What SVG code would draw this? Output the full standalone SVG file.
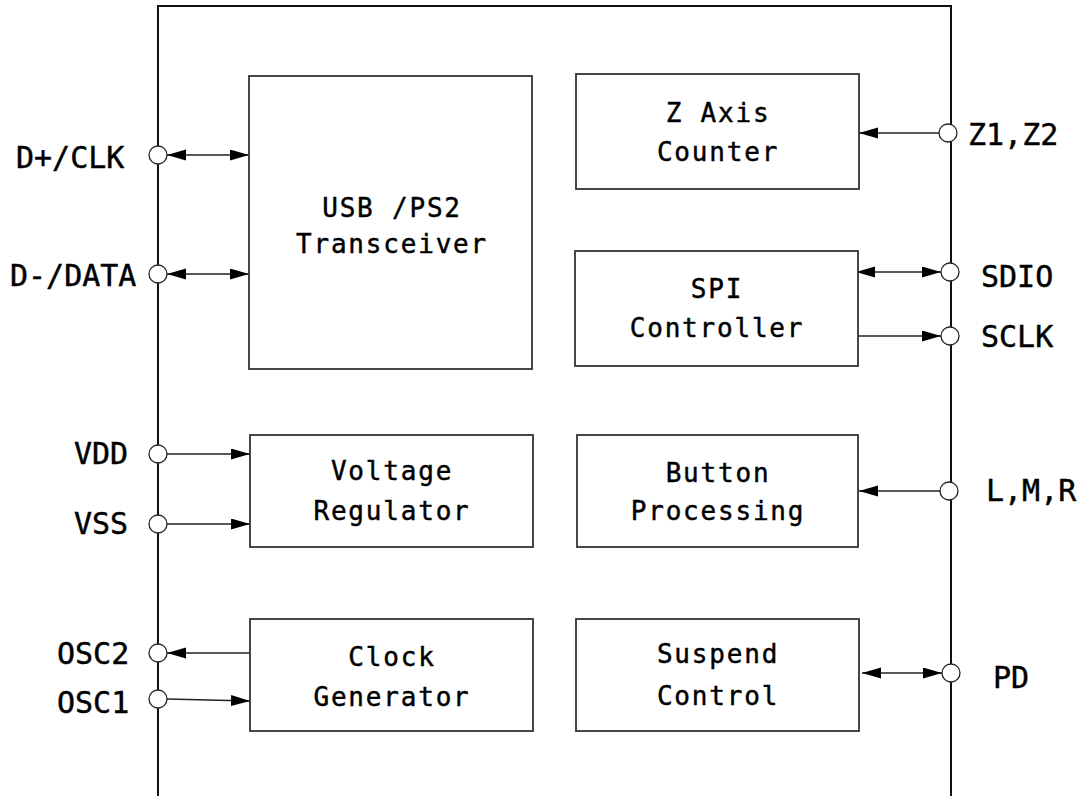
<svg xmlns="http://www.w3.org/2000/svg" width="1080" height="796" viewBox="0 0 1080 796">
<style>
.box{fill:#fff;stroke:#333;stroke-width:1.8}
.blk{font-family:"DejaVu Sans Mono","Liberation Mono",monospace;font-size:26px;letter-spacing:1.8px;text-anchor:middle;fill:#000;stroke:#000;stroke-width:0.45}
.pin{font-family:"DejaVu Sans Mono","Liberation Mono",monospace;font-size:30px;fill:#000;stroke:#000;stroke-width:0.45}
.w{fill:none;stroke:#222;stroke-width:1.3}
.pc{fill:#fff;stroke:#222;stroke-width:1.3}
</style>
<defs>
<marker id="ah" markerUnits="userSpaceOnUse" markerWidth="20" markerHeight="12" refX="19" refY="5.5" orient="auto-start-reverse" viewBox="0 0 20 12">
<path d="M0,0 L19,5.5 L0,11 z" fill="#000"/>
</marker>
</defs>
<rect width="1080" height="796" fill="#fff"/>
<path id="chip" d="M158,796 V6 H951 V796" fill="none" stroke="#111" stroke-width="2"/>

<g id="connectors">
<line class="w" x1="167" y1="155" x2="249" y2="155" marker-start="url(#ah)" marker-end="url(#ah)"/>
<line class="w" x1="167" y1="274" x2="249" y2="274" marker-start="url(#ah)" marker-end="url(#ah)"/>
<line class="w" x1="167" y1="454" x2="250" y2="454" marker-end="url(#ah)"/>
<line class="w" x1="167" y1="524" x2="250" y2="524" marker-end="url(#ah)"/>
<line class="w" x1="250" y1="653" x2="167" y2="653" marker-end="url(#ah)"/>
<line class="w" x1="167" y1="699" x2="250" y2="701" marker-end="url(#ah)"/>
<line class="w" x1="939" y1="133" x2="859" y2="133" marker-end="url(#ah)"/>
<line class="w" x1="856" y1="272" x2="941" y2="272" marker-start="url(#ah)" marker-end="url(#ah)"/>
<line class="w" x1="858" y1="336" x2="941" y2="336" marker-end="url(#ah)"/>
<line class="w" x1="940" y1="491" x2="859" y2="491" marker-end="url(#ah)"/>
<line class="w" x1="862" y1="673" x2="942" y2="673" marker-start="url(#ah)" marker-end="url(#ah)"/>
</g>

<g id="pins">
<circle class="pc" cx="158" cy="155" r="9"/>
<circle class="pc" cx="158" cy="274" r="9"/>
<circle class="pc" cx="158" cy="454" r="9"/>
<circle class="pc" cx="158" cy="524" r="9"/>
<circle class="pc" cx="158" cy="653" r="9"/>
<circle class="pc" cx="158" cy="699" r="9"/>
<circle class="pc" cx="948" cy="133" r="9"/>
<circle class="pc" cx="950" cy="272" r="9"/>
<circle class="pc" cx="950" cy="336" r="9"/>
<circle class="pc" cx="949" cy="491" r="9"/>
<circle class="pc" cx="951" cy="673" r="9"/>
<text class="pin" x="16" y="168">D+/CLK</text>
<text class="pin" x="10" y="286">D-/DATA</text>
<text class="pin" x="74" y="464">VDD</text>
<text class="pin" x="74" y="534">VSS</text>
<text class="pin" x="57" y="664">OSC2</text>
<text class="pin" x="57" y="713">OSC1</text>
<text class="pin" x="968" y="145">Z1,Z2</text>
<text class="pin" x="981" y="287">SDIO</text>
<text class="pin" x="981" y="347">SCLK</text>
<text class="pin" x="986" y="501">L,M,R</text>
<text class="pin" x="993" y="688">PD</text>
</g>

<g id="usb">
<rect class="box" x="249" y="76" width="283" height="293"/>
<text class="blk" x="392" y="217">USB /PS2</text>
<text class="blk" x="392" y="253">Transceiver</text>
</g>
<g id="zaxis">
<rect class="box" x="576" y="74" width="283" height="115"/>
<text class="blk" x="718" y="122">Z Axis</text>
<text class="blk" x="718" y="161">Counter</text>
</g>
<g id="spi">
<rect class="box" x="575" y="251" width="283" height="115"/>
<text class="blk" x="717" y="298">SPI</text>
<text class="blk" x="717" y="337">Controller</text>
</g>
<g id="voltage">
<rect class="box" x="250" y="435" width="283" height="112"/>
<text class="blk" x="392" y="480">Voltage</text>
<text class="blk" x="392" y="520">Regulator</text>
</g>
<g id="button">
<rect class="box" x="577" y="435" width="281" height="112"/>
<text class="blk" x="718" y="482">Button</text>
<text class="blk" x="718" y="520">Processing</text>
</g>
<g id="clock">
<rect class="box" x="250" y="619" width="283" height="112"/>
<text class="blk" x="392" y="666">Clock</text>
<text class="blk" x="392" y="706">Generator</text>
</g>
<g id="suspend">
<rect class="box" x="576" y="619" width="283" height="112"/>
<text class="blk" x="718" y="663">Suspend</text>
<text class="blk" x="718" y="705">Control</text>
</g>
</svg>
